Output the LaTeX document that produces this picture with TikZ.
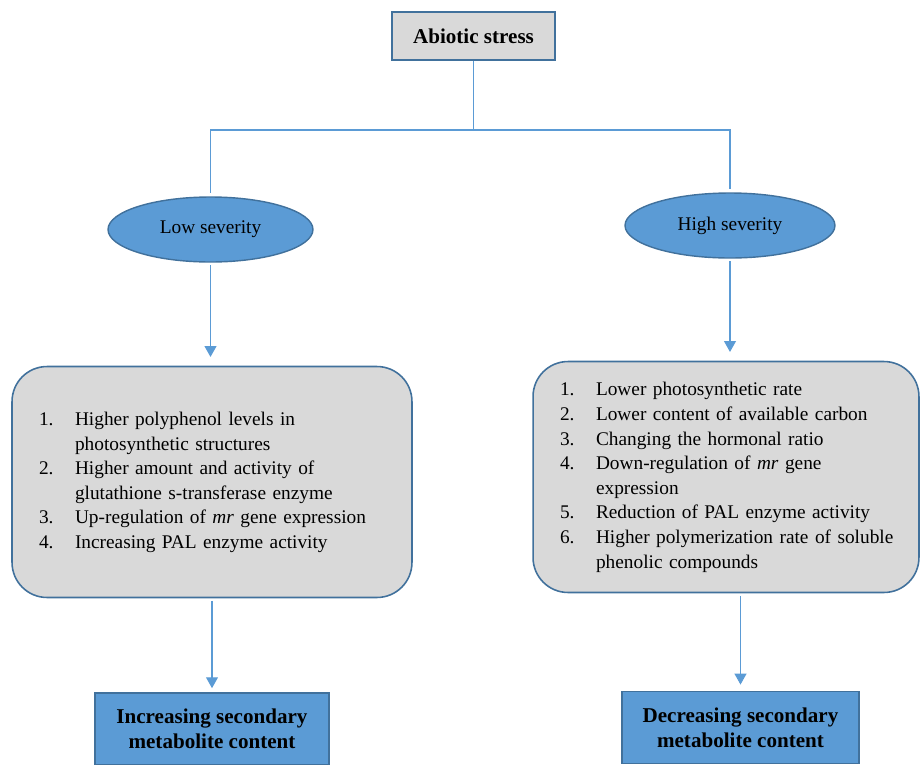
\documentclass[tikz,border=0pt]{standalone}
\usepackage{fontspec}
\setmainfont{Liberation Serif}
\usetikzlibrary{shapes.geometric, arrows.meta, positioning}
\definecolor{boxgray}{HTML}{D9D9D9}
\definecolor{edgeblue}{HTML}{41719C}
\definecolor{fillblue}{HTML}{5B9BD5}

\begin{document}
\begin{tikzpicture}[x=0.02cm, y=-0.02cm,
		headbox/.style={draw=edgeblue, line width=1.2pt, fill=boxgray, minimum width=3.26cm, minimum height=0.96cm, font=\fontsize{12}{14}\selectfont\bfseries},
		severity/.style={ellipse, draw=edgeblue, line width=0.8pt, fill=fillblue, minimum height=1.3cm, inner sep=0pt, font=\fontsize{11}{14}\selectfont},
		listbox/.style={draw=edgeblue, line width=0.9pt, fill=boxgray, rounded corners=0.7cm, minimum height=4.62cm, inner xsep=0.54cm, inner ysep=0pt, align=left, font=\fontsize{11}{14}\selectfont},
		resultbox/.style={draw=edgeblue, line width=0.9pt, fill=fillblue, minimum height=1.44cm, align=center, font=\fontsize{12}{14.2}\selectfont\bfseries},
		link/.style={draw=fillblue, line width=0.6pt},
		flow/.style={link, -{Triangle[width=6.8pt, length=6.2pt]}, shorten <=1.5pt}]
		\useasboundingbox (0,0) rectangle (921,765);

		% Stress and severity levels
		\node[headbox] (abiotic) at (473.5,36) {Abiotic stress};
		\node[severity, minimum width=4.1cm] (low) at (210.5,229.5) {Low severity};
		\node[severity, minimum width=4.2cm] (high) at (730,225.5) {High severity};
		\coordinate (split) at (abiotic.south |- 0,130);
		\draw[link] (abiotic.south) -- (split);
		\draw[link, shorten <=2pt, shorten >=2pt] (low.north) |- (split) -| (high.north);

		% Low severity
		\node[listbox, text width=6.92cm] (lowlist) at (212,482) {%
			\begin{tabular}{@{}p{0.72cm}@{}l@{}}
				1. & Higher polyphenol levels in\\
				   & photosynthetic structures\\
				2. & Higher amount and activity of\\
				   & glutathione s-transferase enzyme\\
				3. & Up-regulation of \textit{mr} gene expression\\
				4. & Increasing PAL enzyme activity
			\end{tabular}};
		\node[resultbox, minimum width=4.68cm] (increase) at (212,729) {Increasing secondary\\metabolite content};
		\draw[flow, shorten >=5pt] (low.south) -- (low.south |- lowlist.north);
		\draw[flow, shorten >=2.3pt] (increase.north |- lowlist.south) -- (increase.north);

		% High severity
		\node[listbox, text width=6.64cm] (highlist) at (726,477) {%
			\begin{tabular}{@{}p{0.72cm}@{}l@{}}
				1. & Lower photosynthetic rate\\
				2. & Lower content of available carbon\\
				3. & Changing the hormonal ratio\\
				4. & Down-regulation of \textit{mr} gene\\
				   & expression\\
				5. & Reduction of PAL enzyme activity\\
				6. & Higher polymerization rate of soluble\\
				   & phenolic compounds
			\end{tabular}};
		\node[resultbox, minimum width=4.74cm] (decrease) at (740.5,727.5) {Decreasing secondary\\metabolite content};
		\draw[flow, shorten >=5pt] (high.south) -- (high.south |- highlist.north);
		\draw[flow, shorten >=3.5pt] (decrease.north |- highlist.south) -- (decrease.north);
	\end{tikzpicture}
\end{document}
